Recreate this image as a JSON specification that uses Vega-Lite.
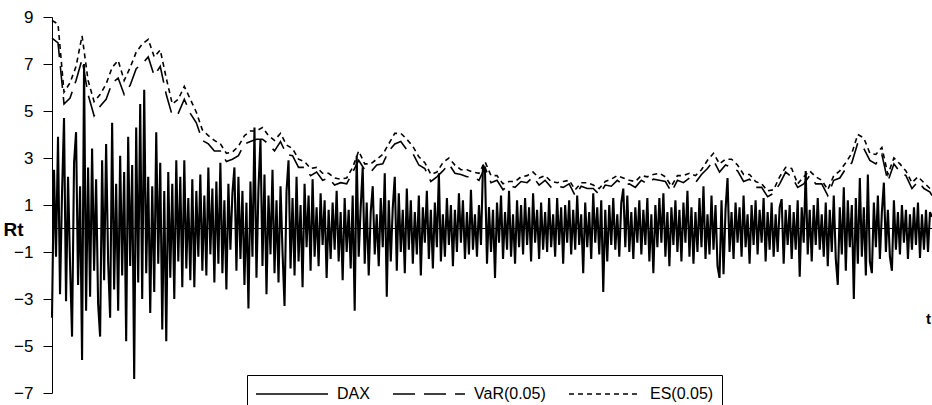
{
"$schema": "https://vega.github.io/schema/vega-lite/v6.json",
"width": 880, "height": 376,
"autosize": {"type": "none"},
"padding": {"left": 52, "top": 17, "right": 0, "bottom": 12},
"background": "white",
"config": {"view": {"stroke": null}, "font": "Liberation Sans"},
"datasets": {
"ret": [
{"t":0,"r":-3.8},{"t":1,"r":2.5},{"t":2,"r":-1.2},{"t":3,"r":3.9},{"t":4,"r":-2.8},{"t":5,"r":1.5},{"t":6,"r":4.7},{"t":7,"r":-3.1},{"t":8,"r":2.2},{"t":9,"r":-1.5},
{"t":10,"r":-4.6},{"t":11,"r":2.8},{"t":12,"r":4.1},{"t":13,"r":-2.4},{"t":14,"r":1.8},{"t":15,"r":-5.6},{"t":16,"r":7.0},{"t":17,"r":-3.5},{"t":18,"r":2.6},{"t":19,"r":-2.9},
{"t":20,"r":3.4},{"t":21,"r":-1.8},{"t":22,"r":2.1},{"t":23,"r":-3.2},{"t":24,"r":-4.6},{"t":25,"r":2.9},{"t":26,"r":-2.2},{"t":27,"r":3.6},{"t":28,"r":-1.4},{"t":29,"r":-3.8},
{"t":30,"r":4.5},{"t":31,"r":-2.6},{"t":32,"r":1.9},{"t":33,"r":-3.5},{"t":34,"r":3.1},{"t":35,"r":-2.0},{"t":36,"r":2.4},{"t":37,"r":-4.8},{"t":38,"r":3.9},{"t":39,"r":-1.6},
{"t":40,"r":2.7},{"t":41,"r":-6.4},{"t":42,"r":4.3},{"t":43,"r":-2.3},{"t":44,"r":5.3},{"t":45,"r":-3.0},{"t":46,"r":5.9},{"t":47,"r":-1.9},{"t":48,"r":2.2},{"t":49,"r":-3.6},
{"t":50,"r":1.8},{"t":51,"r":-2.7},{"t":52,"r":4.1},{"t":53,"r":-1.5},{"t":54,"r":2.8},{"t":55,"r":-4.3},{"t":56,"r":1.6},{"t":57,"r":-4.8},{"t":58,"r":2.4},{"t":59,"r":-2.1},
{"t":60,"r":1.9},{"t":61,"r":-3.0},{"t":62,"r":2.9},{"t":63,"r":-1.4},{"t":64,"r":2.2},{"t":65,"r":-2.5},{"t":66,"r":2.9},{"t":67,"r":-1.7},{"t":68,"r":1.3},{"t":69,"r":-2.2},
{"t":70,"r":2.1},{"t":71,"r":-2.5},{"t":72,"r":1.6},{"t":73,"r":-1.2},{"t":74,"r":2.3},{"t":75,"r":-1.8},{"t":76,"r":1.4},{"t":77,"r":-2.0},{"t":78,"r":2.6},{"t":79,"r":-1.1},
{"t":80,"r":1.7},{"t":81,"r":-2.3},{"t":82,"r":2.0},{"t":83,"r":-1.5},{"t":84,"r":2.8},{"t":85,"r":-1.9},{"t":86,"r":1.2},{"t":87,"r":-2.6},{"t":88,"r":1.9},{"t":89,"r":-0.9},
{"t":90,"r":1.5},{"t":91,"r":2.6},{"t":92,"r":-1.8},{"t":93,"r":2.2},{"t":94,"r":-1.3},{"t":95,"r":1.6},{"t":96,"r":-2.4},{"t":97,"r":1.1},{"t":98,"r":-3.4},{"t":99,"r":2.0},
{"t":100,"r":-1.2},{"t":101,"r":4.3},{"t":102,"r":-2.1},{"t":103,"r":1.7},{"t":104,"r":3.8},{"t":105,"r":-1.6},{"t":106,"r":2.3},{"t":107,"r":-2.8},{"t":108,"r":1.4},{"t":109,"r":-1.1},
{"t":110,"r":2.5},{"t":111,"r":-1.9},{"t":112,"r":1.2},{"t":113,"r":-2.3},{"t":114,"r":1.8},{"t":115,"r":-1.0},{"t":116,"r":-3.3},{"t":117,"r":1.6},{"t":118,"r":2.9},{"t":119,"r":-1.7},
{"t":120,"r":1.3},{"t":121,"r":-2.0},{"t":122,"r":2.2},{"t":123,"r":-1.4},{"t":124,"r":1.0},{"t":125,"r":-2.5},{"t":126,"r":1.9},{"t":127,"r":-0.8},{"t":128,"r":1.4},{"t":129,"r":-1.8},
{"t":130,"r":2.1},{"t":131,"r":-1.2},{"t":132,"r":0.9},{"t":133,"r":-1.6},{"t":134,"r":1.5},{"t":135,"r":-0.7},{"t":136,"r":1.2},{"t":137,"r":-2.1},{"t":138,"r":0.8},{"t":139,"r":-1.3},
{"t":140,"r":1.1},{"t":141,"r":-0.9},{"t":142,"r":1.6},{"t":143,"r":-1.4},{"t":144,"r":0.7},{"t":145,"r":-2.2},{"t":146,"r":1.3},{"t":147,"r":-1.0},{"t":148,"r":0.8},{"t":149,"r":-1.7},
{"t":150,"r":1.4},{"t":151,"r":-3.5},{"t":152,"r":3.1},{"t":153,"r":-1.2},{"t":154,"r":0.9},{"t":155,"r":2.6},{"t":156,"r":-1.5},{"t":157,"r":1.1},{"t":158,"r":-2.0},{"t":159,"r":0.7},
{"t":160,"r":1.8},{"t":161,"r":-1.1},{"t":162,"r":0.6},{"t":163,"r":-1.6},{"t":164,"r":1.3},{"t":165,"r":-0.8},{"t":166,"r":2.35},{"t":167,"r":-2.9},{"t":168,"r":1.2},{"t":169,"r":-1.4},
{"t":170,"r":0.9},{"t":171,"r":2.2},{"t":172,"r":-1.8},{"t":173,"r":1.5},{"t":174,"r":-1.0},{"t":175,"r":0.8},{"t":176,"r":-1.9},{"t":177,"r":1.7},{"t":178,"r":-0.9},{"t":179,"r":1.2},
{"t":180,"r":-1.5},{"t":181,"r":0.7},{"t":182,"r":-1.1},{"t":183,"r":1.4},{"t":184,"r":-2.0},{"t":185,"r":0.9},{"t":186,"r":-0.6},{"t":187,"r":1.6},{"t":188,"r":-1.3},{"t":189,"r":0.8},
{"t":190,"r":-1.7},{"t":191,"r":1.1},{"t":192,"r":-0.8},{"t":193,"r":2.35},{"t":194,"r":-1.4},{"t":195,"r":0.6},{"t":196,"r":-1.2},{"t":197,"r":1.3},{"t":198,"r":-0.7},{"t":199,"r":1.0},
{"t":200,"r":-1.6},{"t":201,"r":0.8},{"t":202,"r":-1.0},{"t":203,"r":1.5},{"t":204,"r":-0.6},{"t":205,"r":1.2},{"t":206,"r":-1.3},{"t":207,"r":0.7},{"t":208,"r":-1.1},{"t":209,"r":1.65},
{"t":210,"r":-0.9},{"t":211,"r":0.6},{"t":212,"r":-1.2},{"t":213,"r":1.0},{"t":214,"r":-0.7},{"t":215,"r":2.7},{"t":216,"r":2.5},{"t":217,"r":-1.5},{"t":218,"r":0.9},{"t":219,"r":-1.0},
{"t":220,"r":0.8},{"t":221,"r":-2.1},{"t":222,"r":1.1},{"t":223,"r":-0.6},{"t":224,"r":1.4},{"t":225,"r":-1.3},{"t":226,"r":0.7},{"t":227,"r":-0.9},{"t":228,"r":1.6},{"t":229,"r":-1.2},
{"t":230,"r":0.6},{"t":231,"r":-1.5},{"t":232,"r":1.2},{"t":233,"r":-0.8},{"t":234,"r":1.0},{"t":235,"r":-1.1},{"t":236,"r":1.3},{"t":237,"r":-0.7},{"t":238,"r":0.9},{"t":239,"r":-1.4},
{"t":240,"r":1.5},{"t":241,"r":-0.6},{"t":242,"r":0.8},{"t":243,"r":-1.3},{"t":244,"r":1.1},{"t":245,"r":-0.9},{"t":246,"r":0.7},{"t":247,"r":-1.0},{"t":248,"r":1.3},{"t":249,"r":-0.8},
{"t":250,"r":0.6},{"t":251,"r":-1.2},{"t":252,"r":1.3},{"t":253,"r":-0.7},{"t":254,"r":0.9},{"t":255,"r":-1.5},{"t":256,"r":1.0},{"t":257,"r":-0.6},{"t":258,"r":1.2},{"t":259,"r":-1.1},
{"t":260,"r":0.8},{"t":261,"r":-0.9},{"t":262,"r":1.4},{"t":263,"r":-0.7},{"t":264,"r":0.6},{"t":265,"r":-1.9},{"t":266,"r":1.1},{"t":267,"r":-0.8},{"t":268,"r":0.7},{"t":269,"r":-1.3},
{"t":270,"r":1.5},{"t":271,"r":-0.6},{"t":272,"r":0.9},{"t":273,"r":-1.1},{"t":274,"r":1.2},{"t":275,"r":-2.7},{"t":276,"r":0.8},{"t":277,"r":-1.4},{"t":278,"r":1.0},{"t":279,"r":-0.7},
{"t":280,"r":1.3},{"t":281,"r":-0.9},{"t":282,"r":0.6},{"t":283,"r":-1.2},{"t":284,"r":1.1},{"t":285,"r":1.7},{"t":286,"r":-0.8},{"t":287,"r":1.4},{"t":288,"r":-1.0},{"t":289,"r":0.7},
{"t":290,"r":-1.3},{"t":291,"r":0.9},{"t":292,"r":-0.6},{"t":293,"r":1.2},{"t":294,"r":-1.1},{"t":295,"r":0.8},{"t":296,"r":-0.7},{"t":297,"r":1.3},{"t":298,"r":-1.4},{"t":299,"r":0.6},
{"t":300,"r":-1.9},{"t":301,"r":1.0},{"t":302,"r":-0.8},{"t":303,"r":1.3},{"t":304,"r":-0.6},{"t":305,"r":1.5},{"t":306,"r":-1.2},{"t":307,"r":0.7},{"t":308,"r":-1.6},{"t":309,"r":0.9},
{"t":310,"r":-0.7},{"t":311,"r":1.2},{"t":312,"r":-1.0},{"t":313,"r":0.8},{"t":314,"r":-1.4},{"t":315,"r":1.1},{"t":316,"r":-0.6},{"t":317,"r":1.6},{"t":318,"r":-1.2},{"t":319,"r":0.9},
{"t":320,"r":-1.5},{"t":321,"r":0.7},{"t":322,"r":-1.0},{"t":323,"r":1.3},{"t":324,"r":-0.8},{"t":325,"r":1.8},{"t":326,"r":-1.3},{"t":327,"r":0.6},{"t":328,"r":-1.1},{"t":329,"r":1.4},
{"t":330,"r":-0.9},{"t":331,"r":1.0},{"t":332,"r":-1.6},{"t":333,"r":-2.1},{"t":334,"r":1.2},{"t":335,"r":-1.95},{"t":336,"r":0.8},{"t":337,"r":2.15},{"t":338,"r":-1.0},{"t":339,"r":0.7},
{"t":340,"r":-1.3},{"t":341,"r":1.1},{"t":342,"r":-0.6},{"t":343,"r":0.9},{"t":344,"r":-1.2},{"t":345,"r":1.4},{"t":346,"r":-0.8},{"t":347,"r":0.6},{"t":348,"r":-1.5},{"t":349,"r":1.0},
{"t":350,"r":-0.7},{"t":351,"r":1.2},{"t":352,"r":-1.1},{"t":353,"r":0.8},{"t":354,"r":-0.6},{"t":355,"r":1.3},{"t":356,"r":-1.4},{"t":357,"r":0.7},{"t":358,"r":-0.9},{"t":359,"r":1.1},
{"t":360,"r":-1.2},{"t":361,"r":0.6},{"t":362,"r":-1.0},{"t":363,"r":0.9},{"t":364,"r":1.25},{"t":365,"r":-1.5},{"t":366,"r":0.8},{"t":367,"r":-0.7},{"t":368,"r":1.0},{"t":369,"r":-1.3},
{"t":370,"r":0.7},{"t":371,"r":-0.9},{"t":372,"r":1.2},{"t":373,"r":-2.05},{"t":374,"r":0.9},{"t":375,"r":-0.6},{"t":376,"r":2.45},{"t":377,"r":-1.1},{"t":378,"r":0.8},{"t":379,"r":-1.4},
{"t":380,"r":1.0},{"t":381,"r":-0.7},{"t":382,"r":1.3},{"t":383,"r":-0.9},{"t":384,"r":0.6},{"t":385,"r":-1.2},{"t":386,"r":1.1},{"t":387,"r":-1.6},{"t":388,"r":0.8},{"t":389,"r":-1.0},
{"t":390,"r":1.4},{"t":391,"r":-1.3},{"t":392,"r":-2.4},{"t":393,"r":0.9},{"t":394,"r":-1.1},{"t":395,"r":1.75},{"t":396,"r":-1.8},{"t":397,"r":1.2},{"t":398,"r":-0.8},{"t":399,"r":1.0},
{"t":400,"r":-3.0},{"t":401,"r":1.3},{"t":402,"r":-1.5},{"t":403,"r":2.15},{"t":404,"r":-1.2},{"t":405,"r":0.9},{"t":406,"r":-2.0},{"t":407,"r":2.3},{"t":408,"r":-1.4},{"t":409,"r":-1.9},
{"t":410,"r":1.1},{"t":411,"r":-0.8},{"t":412,"r":1.4},{"t":413,"r":-1.3},{"t":414,"r":0.7},{"t":415,"r":1.95},{"t":416,"r":-1.0},{"t":417,"r":0.8},{"t":418,"r":-1.2},{"t":419,"r":-1.8},
{"t":420,"r":1.2},{"t":421,"r":-0.9},{"t":422,"r":0.7},{"t":423,"r":-1.1},{"t":424,"r":1.0},{"t":425,"r":-0.6},{"t":426,"r":0.8},{"t":427,"r":-1.3},{"t":428,"r":0.6},{"t":429,"r":-0.9},
{"t":430,"r":0.9},{"t":431,"r":-0.7},{"t":432,"r":1.1},{"t":433,"r":-1.25},{"t":434,"r":0.6},{"t":435,"r":-0.9},{"t":436,"r":0.8},{"t":437,"r":-1.0},{"t":438,"r":0.7},{"t":439,"r":0.5}
],
"risk": [
{"t":0,"v":8.1,"e":8.85},{"t":3,"v":7.9,"e":8.7},{"t":6,"v":5.3,"e":5.8},{"t":9,"v":5.55,"e":6.2},{"t":12,"v":6.3,"e":6.9},{"t":15,"v":7.2,"e":8.2},{"t":18,"v":5.7,"e":6.3},{"t":21,"v":4.8,"e":5.4},{"t":24,"v":5.2,"e":5.7},{"t":27,"v":5.5,"e":6.15},
{"t":30,"v":6.2,"e":6.85},{"t":33,"v":6.4,"e":7.15},{"t":36,"v":5.7,"e":6.3},{"t":39,"v":6.1,"e":6.85},{"t":42,"v":6.8,"e":7.5},{"t":45,"v":7.0,"e":7.85},{"t":48,"v":7.3,"e":8.05},{"t":51,"v":6.5,"e":7.3},{"t":54,"v":6.9,"e":7.6},{"t":57,"v":5.7,"e":6.4},
{"t":60,"v":4.8,"e":5.3},{"t":63,"v":4.9,"e":5.5},{"t":66,"v":5.5,"e":6.05},{"t":69,"v":4.9,"e":5.5},{"t":72,"v":4.5,"e":4.95},{"t":75,"v":3.75,"e":4.2},{"t":78,"v":3.6,"e":3.95},{"t":81,"v":3.3,"e":3.75},{"t":84,"v":3.3,"e":3.6},{"t":87,"v":2.85,"e":3.2},
{"t":90,"v":2.95,"e":3.25},{"t":93,"v":3.1,"e":3.5},{"t":96,"v":3.6,"e":3.95},{"t":99,"v":3.7,"e":4.15},{"t":102,"v":3.8,"e":4.15},{"t":105,"v":3.8,"e":4.3},{"t":108,"v":3.6,"e":3.95},{"t":111,"v":3.3,"e":3.75},{"t":114,"v":3.7,"e":4.05},{"t":117,"v":3.15,"e":3.55},
{"t":120,"v":3.1,"e":3.4},{"t":123,"v":2.6,"e":2.95},{"t":126,"v":2.6,"e":2.85},{"t":129,"v":2.25,"e":2.55},{"t":132,"v":2.4,"e":2.6},{"t":135,"v":2.05,"e":2.35},{"t":138,"v":2.15,"e":2.35},{"t":141,"v":1.85,"e":2.15},{"t":144,"v":1.95,"e":2.1},{"t":147,"v":1.9,"e":2.15},
{"t":150,"v":2.4,"e":2.6},{"t":153,"v":2.9,"e":3.3},{"t":156,"v":2.5,"e":2.75},{"t":159,"v":2.4,"e":2.75},{"t":162,"v":2.7,"e":2.95},{"t":165,"v":2.75,"e":3.15},{"t":168,"v":3.3,"e":3.6},{"t":171,"v":3.6,"e":4.05},{"t":174,"v":3.7,"e":4.05},{"t":177,"v":3.35,"e":3.8},
{"t":180,"v":3.2,"e":3.5},{"t":183,"v":2.7,"e":3.05},{"t":186,"v":2.55,"e":2.8},{"t":189,"v":2.0,"e":2.3},{"t":192,"v":2.2,"e":2.4},{"t":195,"v":2.45,"e":2.8},{"t":198,"v":2.75,"e":3.0},{"t":201,"v":2.35,"e":2.7},{"t":204,"v":2.3,"e":2.5},{"t":207,"v":2.2,"e":2.5},
{"t":210,"v":2.2,"e":2.4},{"t":213,"v":2.05,"e":2.35},{"t":216,"v":2.6,"e":2.85},{"t":219,"v":1.95,"e":2.25},{"t":222,"v":2.05,"e":2.25},{"t":225,"v":1.65,"e":1.9},{"t":228,"v":1.85,"e":2.0},{"t":231,"v":1.75,"e":2.0},{"t":234,"v":2.0,"e":2.2},{"t":237,"v":1.95,"e":2.25},
{"t":240,"v":2.2,"e":2.4},{"t":243,"v":1.85,"e":2.15},{"t":246,"v":2.05,"e":2.25},{"t":249,"v":1.75,"e":2.0},{"t":252,"v":1.8,"e":1.95},{"t":255,"v":1.75,"e":2.0},{"t":258,"v":1.9,"e":2.05},{"t":261,"v":1.4,"e":1.65},{"t":264,"v":1.8,"e":1.95},{"t":267,"v":1.7,"e":1.95},
{"t":270,"v":1.7,"e":1.85},{"t":273,"v":1.45,"e":1.7},{"t":276,"v":1.85,"e":2.0},{"t":279,"v":1.8,"e":2.1},{"t":282,"v":2.05,"e":2.25},{"t":285,"v":1.85,"e":2.15},{"t":288,"v":1.9,"e":2.05},{"t":291,"v":1.75,"e":2.0},{"t":294,"v":2.05,"e":2.25},{"t":297,"v":1.9,"e":2.2},
{"t":300,"v":2.1,"e":2.3},{"t":303,"v":2.05,"e":2.35},{"t":306,"v":2.0,"e":2.2},{"t":309,"v":1.55,"e":1.8},{"t":312,"v":2.05,"e":2.25},{"t":315,"v":1.95,"e":2.25},{"t":318,"v":2.15,"e":2.35},{"t":321,"v":1.95,"e":2.25},{"t":324,"v":2.3,"e":2.5},{"t":327,"v":2.55,"e":2.9},
{"t":330,"v":2.9,"e":3.2},{"t":333,"v":2.4,"e":2.75},{"t":336,"v":2.7,"e":2.95},{"t":339,"v":2.6,"e":2.95},{"t":342,"v":2.45,"e":2.7},{"t":345,"v":2.0,"e":2.3},{"t":348,"v":2.1,"e":2.3},{"t":351,"v":1.75,"e":2.0},{"t":354,"v":1.75,"e":1.9},{"t":357,"v":1.35,"e":1.6},
{"t":360,"v":1.5,"e":1.65},{"t":363,"v":1.9,"e":2.2},{"t":366,"v":2.4,"e":2.6},{"t":369,"v":2.2,"e":2.55},{"t":372,"v":1.75,"e":1.9},{"t":375,"v":1.9,"e":2.2},{"t":378,"v":2.25,"e":2.45},{"t":381,"v":1.9,"e":2.2},{"t":384,"v":1.9,"e":2.05},{"t":387,"v":1.4,"e":1.65},
{"t":390,"v":2.05,"e":2.25},{"t":393,"v":2.15,"e":2.45},{"t":396,"v":2.55,"e":2.8},{"t":399,"v":2.8,"e":3.2},{"t":402,"v":3.65,"e":4.0},{"t":405,"v":3.4,"e":3.85},{"t":408,"v":2.9,"e":3.2},{"t":411,"v":2.75,"e":3.15},{"t":414,"v":3.15,"e":3.45},{"t":417,"v":2.0,"e":2.3},
{"t":420,"v":2.75,"e":3.0},{"t":423,"v":2.4,"e":2.75},{"t":426,"v":2.25,"e":2.45},{"t":429,"v":1.7,"e":1.95},{"t":432,"v":2.0,"e":2.2},{"t":435,"v":1.7,"e":1.95},{"t":438,"v":1.55,"e":1.7},{"t":439,"v":1.4,"e":1.6}
]
},
"layer": [
{
"data": {"name": "ret"},
"mark": {"type": "line", "color": "black", "strokeWidth": 2.1},
"encoding": {
"x": {"field": "t", "type": "quantitative", "scale": {"domain": [0, 439], "nice": false, "zero": false},
"axis": {"domain": false, "ticks": false, "labels": false, "grid": false, "title": "t", "titleX": 876, "titleY": -75, "titleAlign": "center", "titleBaseline": "middle", "titleFontSize": 15, "titleFontWeight": "bold", "titleColor": "black", "titleFont": "Liberation Sans"}},
"y": {"field": "r", "type": "quantitative", "scale": {"domain": [-7, 9], "nice": false, "zero": false},
"axis": {"values": [-7, -5, -3, -1, 1, 3, 5, 7, 9], "grid": false, "domainColor": "black", "domainWidth": 1, "tickColor": "black", "tickSize": 9, "tickWidth": 1, "labelPadding": 10, "labelFontSize": 17, "labelColor": "black", "labelFont": "Liberation Sans", "title": "Rt", "titleAngle": 0, "titleX": -49, "titleY": 212, "titleAlign": "left", "titleBaseline": "middle", "titleFontSize": 19, "titleFontWeight": "bold", "titleColor": "black", "titleFont": "Liberation Sans"}},
"strokeDash": {"datum": "DAX", "type": "nominal",
"scale": {"domain": ["DAX", "VaR(0.05)", "ES(0.05)"], "range": [[1, 0], [22, 9], [5, 4]]},
"legend": {"orient": "none", "legendX": 195, "legendY": 358, "direction": "horizontal", "title": null, "symbolType": "stroke", "symbolSize": 5184, "clipHeight": 22, "symbolStrokeColor": "black", "symbolStrokeWidth": 1.5, "labelFontSize": 16, "labelColor": "black", "labelFont": "Liberation Sans", "labelOffset": 8, "columnPadding": 22, "strokeColor": "black", "padding": 8, "fillColor": "white"}}
}
},
{
"data": {"name": "risk"},
"mark": {"type": "line", "color": "black", "strokeWidth": 1.6},
"encoding": {
"x": {"field": "t", "type": "quantitative", "title": "t"},
"y": {"field": "v", "type": "quantitative", "title": "Rt"},
"strokeDash": {"datum": "VaR(0.05)", "type": "nominal"}
}
},
{
"data": {"name": "risk"},
"mark": {"type": "line", "color": "black", "strokeWidth": 1.6},
"encoding": {
"x": {"field": "t", "type": "quantitative", "title": "t"},
"y": {"field": "e", "type": "quantitative", "title": "Rt"},
"strokeDash": {"datum": "ES(0.05)", "type": "nominal"}
}
},
{
"data": {"values": [{}]},
"mark": {"type": "rule", "color": "black", "strokeWidth": 1},
"encoding": {"y": {"datum": 0}}
}
]
}
